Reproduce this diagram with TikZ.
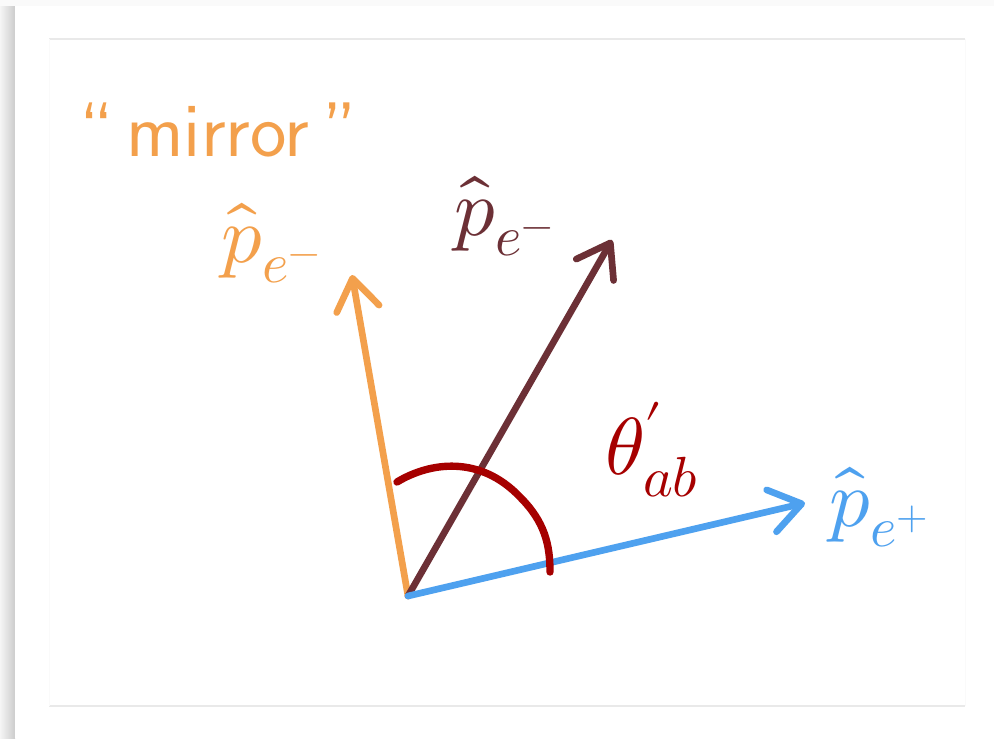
\documentclass[tikz,border=0pt]{standalone}
\usepackage{unicode-math}
\setmathfont{Latin Modern Math}
\usetikzlibrary{arrows.meta}
\definecolor{mirrorOrange}{HTML}{F3A04C}
\definecolor{elecBrown}{HTML}{6C3036}
\definecolor{posiBlue}{HTML}{4EA1EF}
\definecolor{angleRed}{HTML}{A60000}
\definecolor{frameGray}{HTML}{E9E9E9}
\tikzset{
  vec/.style={line width=3.8pt, line cap=round,
    -{Straight Barb[round,length=0.62cm,width=0.86cm]}},
  biglabel/.style={inner sep=0pt, font=\fontsize{46}{52}\selectfont}
}
\begin{document}
\begin{tikzpicture}[x=0.02cm,y=-0.02cm]
        % card and frame
        \useasboundingbox (0,0) rectangle (994,738);
        \fill[gray!4] (0,0) rectangle (994,738);
        \shade[left color=gray!8, right color=gray!40] (0,6) rectangle (15,738);
        \fill[white] (15,6) rectangle (994,738);
        \draw[frameGray, line width=0.8pt] (49,39) -- (965,39);
        \draw[frameGray, line width=0.8pt] (49,706) -- (965,706);
        \draw[gray!4, line width=0.5pt] (49,39) -- (49,706);
        \draw[gray!4, line width=0.5pt] (965,39) -- (965,706);

        % common origin and tips
        \coordinate (O) at (408,596);
        \coordinate (tipMirror) at (352,275);
        \coordinate (tipElec) at (612,240);
        \coordinate (tipPosi) at (805,503);

        % the three vectors
        \draw[vec, mirrorOrange] (O) -- (tipMirror);
        \draw[vec, elecBrown] (O) -- (tipElec);
        \draw[vec, posiBlue] (O) -- (tipPosi);

        % angle between e- mirror and e+
        \draw[angleRed, line width=4.2pt, line cap=round]
          (397,482) .. controls (430,462) and (480,455) .. (520,497)
          .. controls (545,522) and (550,545) .. (550,572);

        % labels
        \node[mirrorOrange, inner sep=0pt, font=\sffamily\fontsize{44}{50}\selectfont]
          (mirrorText) at (218,130) {``\,mirror\,''};
        \node[biglabel, mirrorOrange] (labMirror) at (272,243) {$\hat{p}_{e^-}$};
        \node[biglabel, elecBrown] (labElec) at (505,216) {$\hat{p}_{e^-}$};
        \node[biglabel, angleRed] (labAngle) at (652,450) {$\theta'_{ab}$};
        \node[biglabel, posiBlue] (labPosi) at (880,507) {$\hat{p}_{e^+}$};
    \end{tikzpicture}
\end{document}
